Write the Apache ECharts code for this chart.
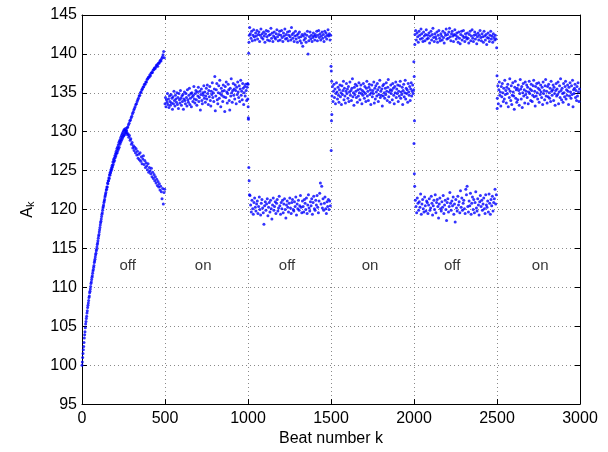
<!DOCTYPE html>
<html>
<head>
<meta charset="utf-8">
<script src="https://cdn.jsdelivr.net/npm/echarts@6/dist/echarts.min.js"></script>
<style>html,body{margin:0;padding:0;background:#fff}#c{width:608px;height:452px}</style>
</head>
<body>
<div id="c"></div>
<script>
// Tick settings
const xTicks = {min: 0, max: 3000, step: 500};
const yTicks = {min: 95, max: 145, step: 5};

// Ramp before alternans: beats 0..266, every 2nd beat
const rampStart = 0, rampStep = 2;
const rampA = [100.0,100.4,101.0,101.5,102.0,102.4,102.9,103.5,103.9,104.3,104.8,105.3,105.6,106.0,106.3,106.7,107.0,107.4,107.7,108.0,
108.3,108.7,108.9,109.3,109.5,109.8,110.1,110.5,110.7,111.0,111.3,111.5,111.8,112.1,112.3,112.6,112.8,113.2,113.4,113.6,
113.9,114.2,114.4,114.7,114.9,115.2,115.5,115.7,116.0,116.3,116.6,116.8,117.1,117.4,117.7,118.0,118.3,118.5,118.8,119.1,
119.4,119.6,119.9,120.2,120.4,120.6,120.9,121.1,121.3,121.6,121.8,122.0,122.2,122.5,122.6,122.9,122.9,123.4,123.3,123.7,
123.7,124.1,124.0,124.5,124.4,124.8,124.7,125.1,125.0,125.4,125.2,125.7,125.5,126.1,125.8,126.4,126.1,126.6,126.3,126.9,
126.7,127.2,126.9,127.5,127.2,127.8,127.3,128.0,127.6,128.3,127.8,128.6,128.0,128.8,128.4,129.0,128.6,129.3,128.8,129.5,
129.0,129.7,129.2,129.9,129.4,130.1,129.5,130.3,129.6,130.2,129.8,130.4,129.9,130.1];

// First alternans (off): upper and lower branches
const alt1UpStart = 268, alt1UpStep = 4;
const alt1Up = [130.2,130.5,130.6,130.9,131.1,131.4,131.5,131.8,132.0,132.3,132.5,132.8,133.0,133.2,133.5,133.6,133.9,134.1,134.3,134.6,
134.7,135.0,135.1,135.4,135.5,135.7,135.8,136.1,136.1,136.4,136.4,136.7,136.8,137.0,137.0,137.3,137.2,137.5,137.6,137.6,
137.9,138.0,138.2,138.1,138.3,138.5,138.6,138.4,138.8,138.8,139.0,139.2,139.1,139.4,139.6,139.9,140.3,139.5];
const alt1LoStart = 270, alt1LoStep = 4;
const alt1Lo = [129.9,129.6,129.7,129.3,129.5,128.9,129.1,128.4,128.6,127.9,128.2,127.6,128.0,127.3,127.8,127.0,127.5,126.6,127.1,126.4,
127.3,126.2,126.8,125.9,126.5,126.9,125.8,126.3,125.4,126.0,125.6,125.1,125.9,124.8,125.4,125.0,124.6,125.3,124.2,124.8,
124.0,124.5,123.7,124.2,123.4,123.9,123.1,123.6,122.9,123.3,122.5,123.0,122.3,121.4,122.7,120.7,122.2,122.6];

// First pacing-on interval
const on1Start = 500, on1Step = 3;
const on1A = [133.6,134.4,133.2,134.1,133.8,134.9,133.5,134.2,133.1,134.6,133.9,133.4,134.8,133.7,134.3,132.9,134.5,133.6,135.2,134.0,
133.3,134.7,134.2,133.8,135.0,133.5,134.4,133.0,134.9,134.1,133.7,135.3,134.3,133.4,134.6,133.9,134.8,132.9,134.2,135.1,
134.0,133.6,134.9,134.4,133.3,135.4,134.1,133.8,134.7,135.6,133.5,134.3,134.9,133.2,135.0,134.5,133.9,134.7,135.8,134.2,
133.7,134.9,135.3,134.1,133.4,135.1,134.6,135.7,133.9,134.4,135.2,132.8,134.8,135.5,134.0,133.6,135.0,134.7,135.9,134.3,
135.1,133.8,134.6,135.6,134.2,136.0,134.9,133.5,135.3,134.5,135.8,134.0,133.3,135.2,134.8,136.3,134.4,135.0,133.9,135.5,
137.1,132.7,134.6,135.4,136.2,134.1,133.6,135.0,135.9,134.3,136.6,134.9,133.2,135.6,134.7,135.2,133.9,136.0,134.5,135.3,
132.6,135.8,134.4,136.4,135.1,133.7,134.9,136.1,135.4,134.0,132.8,135.6,134.6,136.8,135.0,133.8,135.3,136.2,134.7,135.5,
134.2,136.0,135.3,133.6,135.7,134.8,136.4,135.1,134.4,135.9,133.9,135.5,136.6,134.7,135.2,134.1,136.2,135.6,133.5,135.0,
135.8,134.6,136.1,135.3,134.0,135.7,136.2];

// Second alternans (off)
const alt2UpStart = 1010, alt2UpStep = 4;
const alt2Up = [143.4,142.6,142.0,142.9,141.7,142.4,143.1,142.2,141.8,142.7,142.3,143.0,141.9,142.5,142.8,141.6,142.4,143.2,142.1,142.6,
141.9,142.8,142.3,141.5,142.6,143.0,142.2,141.8,142.9,142.4,141.7,142.5,143.3,142.0,142.7,141.6,142.3,142.8,142.1,141.9,
142.6,143.1,142.2,141.7,142.5,142.9,141.8,142.4,143.0,142.1,141.6,142.7,142.3,143.2,141.9,142.5,142.0,142.8,141.7,142.4,
142.9,142.2,141.8,143.4,142.5,142.0,142.7,141.6,142.3,142.9,141.9,142.4,141.5,142.6,142.1,142.8,141.7,142.2,141.4,142.5,
141.0,142.3,141.8,142.6,142.0,141.5,142.4,142.9,140.0,141.7,142.2,142.8,141.9,142.4,141.6,142.1,142.7,142.3,141.8,142.5,
142.2,142.9,141.7,142.4,143.0,142.1,142.6,141.8,142.3,142.8,142.0,142.5,141.6,142.9,142.2,142.7,141.9,142.4,143.1,142.3,
142.6,141.8,142.4];
const alt2LoStart = 1012, alt2LoStep = 4;
const alt2Lo = [121.8,120.6,119.7,121.2,120.1,119.4,120.9,121.5,120.3,119.8,120.7,121.1,119.5,120.4,121.6,120.0,119.3,120.8,121.3,120.2,
119.6,118.1,120.5,121.0,119.9,120.7,121.4,119.2,120.3,120.9,119.7,121.2,120.1,118.8,120.6,121.5,119.9,120.4,121.0,119.5,
120.8,121.3,119.8,120.2,121.7,120.5,119.4,120.9,120.1,121.2,119.6,120.7,121.4,120.0,118.9,120.6,121.1,120.3,119.7,120.8,
121.5,120.2,119.5,120.9,121.3,120.0,119.8,121.0,120.4,121.6,119.3,120.7,120.1,121.2,119.9,120.5,121.8,120.3,119.6,121.1,
120.4,119.7,121.3,120.8,120.0,121.5,119.5,120.6,121.9,120.2,119.8,121.0,120.5,121.4,119.4,120.9,121.7,120.1,119.9,121.2,
120.6,121.8,120.3,119.6,121.1,122.1,123.4,120.7,123.0,120.2,121.4,119.9,120.8,121.6,120.1,119.5,121.0,120.4,121.3,120.0,
121.1,120.5];

// Second pacing-on interval
const on2Start = 1506, on2Step = 3;
const on2A = [134.6,135.8,133.9,135.2,136.1,134.4,135.5,133.6,134.9,136.3,135.1,134.2,135.7,134.7,133.8,135.4,136.0,134.5,135.0,133.5,
135.9,134.8,135.3,136.5,134.1,135.6,134.6,133.7,135.2,136.2,134.9,135.5,134.3,135.8,133.9,135.1,136.4,134.7,135.3,134.0,
135.6,136.8,134.5,135.0,133.4,135.7,134.8,136.1,135.2,134.4,135.9,133.8,135.4,134.6,136.3,135.0,134.1,135.5,136.0,134.9,
133.6,135.3,134.7,136.2,135.1,134.3,135.8,134.9,133.9,135.6,136.5,134.6,135.2,134.0,135.7,136.1,134.8,135.4,133.5,135.0,
136.0,134.5,135.3,134.9,136.4,133.7,135.6,134.2,135.9,135.1,134.6,136.2,135.4,133.9,134.8,135.7,136.6,134.4,135.2,134.7,
135.5,133.3,135.9,134.6,136.1,135.0,134.3,135.6,134.8,136.3,135.2,134.0,135.7,136.7,134.5,135.1,133.8,135.4,136.0,134.9,
135.3,134.1,136.2,135.6,134.7,133.6,135.8,135.0,136.4,134.4,135.5,134.9,136.0,133.9,135.2,134.6,135.9,136.5,134.3,135.1,
134.8,135.7,133.5,135.3,136.1,134.5,135.0,136.6,134.2,135.6,134.9,135.4,133.8,136.2,135.1,134.7,135.8,134.0,135.5,136.3,
134.6,135.2,136.0,134.9,135.4];

// Third alternans (off)
const alt3UpStart = 2006, alt3UpStep = 4;
const alt3Up = [142.5,143.0,141.8,142.7,142.2,141.5,142.9,142.4,141.9,143.2,142.6,142.0,141.6,142.8,142.3,141.7,142.5,143.1,141.9,142.4,
142.0,142.7,141.4,142.3,142.9,141.8,142.5,143.3,142.1,141.6,142.6,142.2,141.9,142.8,141.5,142.4,143.0,142.0,141.7,142.6,
142.3,141.8,142.9,142.1,141.4,142.7,142.4,143.2,141.9,142.5,142.0,142.8,143.3,142.2,141.7,142.6,142.9,142.3,141.6,142.5,
143.1,142.4,141.9,142.7,142.2,141.5,142.8,142.0,141.3,142.5,142.9,141.8,142.3,143.0,142.1,141.6,142.6,142.2,141.9,142.7,
142.0,141.4,142.5,142.9,141.7,142.3,143.1,142.0,141.6,142.4,142.8,141.9,142.5,141.3,142.2,142.7,141.8,142.4,143.0,142.1,
141.7,142.6,142.2,141.5,142.9,142.3,141.8,142.5,141.2,142.1,142.7,142.0,141.6,142.4,142.9,141.9,142.3,141.5,142.6,142.1,
141.8,142.4,141.9,140.8];
const alt3LoStart = 2008, alt3LoStep = 4;
const alt3Lo = [121.2,120.4,119.6,121.5,120.8,119.9,121.0,120.3,122.0,119.4,120.7,121.3,120.1,119.7,121.6,120.5,119.8,121.1,120.9,119.5,
120.6,121.4,119.9,120.2,121.7,120.8,119.3,120.5,121.2,120.0,121.9,119.6,120.9,121.3,120.4,118.9,120.7,121.5,120.1,119.8,
121.0,120.3,121.8,119.5,120.6,121.2,120.0,118.6,120.9,121.4,119.7,120.4,122.2,120.8,119.9,121.1,120.5,121.6,119.4,120.7,
118.4,121.3,120.2,119.8,121.7,120.6,121.0,119.6,122.4,120.3,121.5,119.9,120.8,121.2,120.1,119.5,122.6,121.9,123.0,120.4,
119.7,121.1,120.5,122.1,119.4,120.8,121.6,120.0,121.3,119.6,120.9,122.3,120.2,119.8,121.4,120.6,119.3,121.0,121.8,120.4,
121.2,119.9,120.7,121.5,120.1,119.5,121.9,120.6,120.3,121.1,119.7,122.0,120.8,119.4,121.3,120.5,121.7,119.8,120.9,121.4,
122.6,120.7,121.9];

// Third pacing-on interval
const on3Start = 2502, on3Step = 3;
const on3A = [134.3,135.9,133.6,135.4,136.4,134.7,135.1,133.3,135.8,134.5,136.2,135.0,133.9,135.6,134.2,136.6,134.8,135.3,133.7,135.7,
134.9,136.1,133.2,135.5,134.4,136.8,135.2,134.0,135.9,133.5,134.7,136.3,135.1,134.6,132.9,135.7,136.5,134.3,135.4,133.8,
135.6,134.1,136.0,135.3,133.4,134.9,136.7,135.5,134.2,135.8,133.1,135.0,136.2,134.6,135.4,133.7,136.4,134.8,135.2,136.0,
134.4,135.7,133.6,135.1,136.5,134.9,135.5,134.0,136.1,135.3,133.9,134.7,135.9,136.6,134.5,135.2,133.3,135.8,134.6,136.2,
135.0,134.2,135.6,136.3,133.8,135.4,134.8,136.0,135.1,134.4,135.7,133.5,136.4,134.9,135.3,134.1,135.9,136.7,134.6,135.2,
133.7,135.8,134.5,136.1,135.0,134.3,135.6,133.9,136.5,135.2,134.7,135.4,136.0,134.0,135.7,134.9,133.4,135.3,136.2,134.6,
135.5,134.8,136.4,133.6,135.1,135.9,134.4,136.8,135.3,134.1,135.6,134.9,133.8,136.2,135.0,134.5,135.8,136.5,134.2,135.4,
134.7,136.0,135.2,133.5,135.7,134.6,136.3,135.1,134.3,135.9,134.8,136.6,133.2,135.4,134.9,135.6,136.1,134.4,135.3,134.0,
135.8,134.6,136.3,135.1,133.9,135.5];

// Transition beats at switching points
const transK = [999,1000,1001,1002,1003,1004,1005,1006,1007,1008,1009,
  1500,1501,1502,1503,1504,1505,
  1999,2000,2001,2002,2003,2004,2005,
  2500,2501];
const transA = [134.2,136.1,133.2,131.8,131.6,140.1,125.4,141.5,123.7,142.4,121.9,
  138.4,127.6,137.8,131.4,136.5,132.2,
  139.0,128.5,137.1,124.6,131.4,123.0,141.2,
  137.2,133.0];

// Text annotations
const noteK = [275, 730, 1235, 1735, 2230, 2760];
const noteA = [112.8, 112.8, 112.8, 112.8, 112.8, 112.8];
const noteText = ['off', 'on', 'off', 'on', 'off', 'on'];

function seg(start, step, vals) { return vals.map((v, i) => [start + i * step, v]); }

const points = [].concat(
  seg(rampStart, rampStep, rampA),
  seg(alt1UpStart, alt1UpStep, alt1Up),
  seg(alt1LoStart, alt1LoStep, alt1Lo),
  seg(on1Start, on1Step, on1A),
  seg(alt2UpStart, alt2UpStep, alt2Up),
  seg(alt2LoStart, alt2LoStep, alt2Lo),
  seg(on2Start, on2Step, on2A),
  seg(alt3UpStart, alt3UpStep, alt3Up),
  seg(alt3LoStart, alt3LoStep, alt3Lo),
  seg(on3Start, on3Step, on3A),
  transK.map((k, i) => [k, transA[i]])
);
const notes = noteK.map((k, i) => [k, noteA[i], noteText[i]]);

const FONT = 'Liberation Sans, Arial, Helvetica, sans-serif';
const gridLine = {show: true, lineStyle: {color: '#8a8a8a', width: 1, type: [1, 3]}};
const axLine = {show: true, onZero: false, lineStyle: {color: '#000', width: 1}};
const tick = {show: true, inside: true, length: 5, lineStyle: {color: '#000'}};

const chart = echarts.init(document.getElementById('c'), null, {renderer: 'canvas'});
chart.setOption({
  animation: false,
  backgroundColor: '#fff',
  grid: {left: 82, right: 28, top: 15, bottom: 45, containLabel: false},
  xAxis: [
    {type: 'value', position: 'bottom', min: xTicks.min, max: xTicks.max, interval: xTicks.step,
     axisLine: axLine, axisTick: tick, splitLine: gridLine,
     axisLabel: {color: '#000', fontSize: 16, fontFamily: FONT, margin: 6, formatter: v => String(v)},
     name: 'Beat number k', nameLocation: 'middle', nameGap: 24,
     nameTextStyle: {color: '#000', fontSize: 16, fontFamily: FONT}},
    {type: 'value', position: 'top', min: xTicks.min, max: xTicks.max, interval: xTicks.step,
     axisLine: axLine, axisTick: tick, splitLine: {show: false}, axisLabel: {show: false}}
  ],
  yAxis: [
    {type: 'value', position: 'left', min: yTicks.min, max: yTicks.max, interval: yTicks.step,
     axisLine: axLine, axisTick: tick, splitLine: gridLine,
     axisLabel: {color: '#000', fontSize: 16, fontFamily: FONT, margin: 5, formatter: v => String(v)},
     name: '{a|A}{b|k}', nameLocation: 'middle', nameGap: 46, nameRotate: 90,
     nameTextStyle: {color: '#000', fontFamily: FONT,
       rich: {a: {fontSize: 16, lineHeight: 16, verticalAlign: 'top', fontFamily: FONT, color: '#000'},
              b: {fontSize: 11, lineHeight: 11, verticalAlign: 'bottom', padding: [9, 0, 0, 0], fontFamily: FONT, color: '#000'}}}},
    {type: 'value', position: 'right', min: yTicks.min, max: yTicks.max, interval: yTicks.step,
     axisLine: axLine, axisTick: tick, splitLine: {show: false}, axisLabel: {show: false}}
  ],
  series: [
    {type: 'scatter', data: points, symbol: 'circle', symbolSize: 3,
     itemStyle: {color: '#0000ff'}, silent: true, large: false},
    {type: 'scatter', data: notes, symbolSize: 1, itemStyle: {color: 'rgba(0,0,0,0)'}, silent: true,
     label: {show: true, position: 'inside', formatter: p => p.value[2], color: '#000', fontSize: 15, fontFamily: FONT}}
  ]
});
</script>
</body>
</html>
